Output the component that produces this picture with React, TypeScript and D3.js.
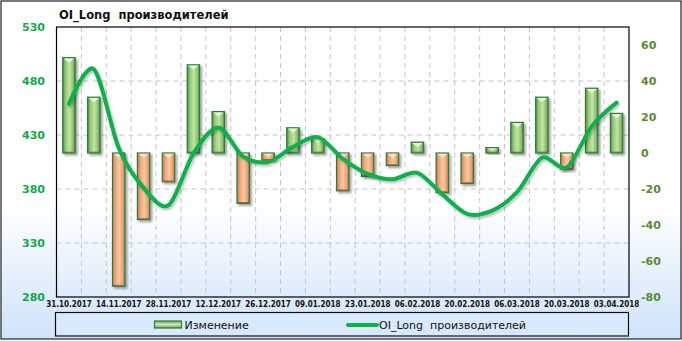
import React from "react";
import * as d3 from "d3";

const dates = [
  "31.10.2017", "07.11.2017", "14.11.2017", "21.11.2017", "28.11.2017", "05.12.2017",
  "12.12.2017", "19.12.2017", "26.12.2017", "02.01.2018", "09.01.2018", "16.01.2018",
  "23.01.2018", "30.01.2018", "06.02.2018", "13.02.2018", "20.02.2018", "27.02.2018",
  "06.03.2018", "13.03.2018", "20.03.2018", "27.03.2018", "03.04.2018",
];
const oiLong = [459, 491, 418, 381, 365, 413, 437, 410, 405, 419, 428, 408, 394, 389, 395, 375, 357, 360, 377, 409, 400, 438, 460];
const change = [53, 31, -74, -37, -16, 49, 23, -28, -4, 14, 8, -21, -13, -7, 6, -22, -17, 3, 17, 31, -9, 36, 22];
const leftTicks = [280, 330, 380, 430, 480, 530];
const rightTicks = [-80, -60, -40, -20, 0, 20, 40, 60];
const title = "OI_Long  производителей";
const seriesBar = "Изменение";
const seriesLine = "OI_Long  производителей";

const W = 682, H = 341;
const PL = 56.5, PR = 629, PT = 27, PB = 297;

export default function App() {
  const idx = dates.map((_, i) => i);
  const x = d3.scaleBand<number>().domain(idx).range([PL, PR]).paddingInner(0.5).paddingOuter(0.25);
  const yL = d3.scaleLinear().domain([280, 530]).range([PB, PT]);
  const yR = d3.scaleLinear().domain([-80, 70]).range([PB, PT]);
  const cx = (i: number) => (x(i) as number) + x.bandwidth() / 2;
  const line = d3
    .line<number>()
    .x((_, i) => cx(i))
    .y((d) => yL(d))
    .curve(d3.curveCardinal.tension(0.1));
  const fullStep = (PR - PL) / dates.length;
  const pre = { whiteSpace: "pre" as const };

  return (
    <svg width={W} height={H} style={{ position: "absolute", left: 0, top: 0 }} fontFamily="'DejaVu Sans', Verdana, sans-serif">
      <defs>
        <linearGradient id="bg" x1="0" y1="0" x2="0" y2="1">
          <stop offset="0" stopColor="#ffffff" />
          <stop offset="0.6" stopColor="#ffffff" />
          <stop offset="1" stopColor="#cfe3fa" />
        </linearGradient>
        <linearGradient id="gGreen" x1="0" y1="0" x2="1" y2="0">
          <stop offset="0" stopColor="#578f42" />
          <stop offset="0.25" stopColor="#9acb7c" />
          <stop offset="0.55" stopColor="#c2e3a4" />
          <stop offset="0.85" stopColor="#8bbd6d" />
          <stop offset="1" stopColor="#4a8638" />
        </linearGradient>
        <linearGradient id="gOrange" x1="0" y1="0" x2="1" y2="0">
          <stop offset="0" stopColor="#c9784a" />
          <stop offset="0.25" stopColor="#eea77a" />
          <stop offset="0.55" stopColor="#fbc9a2" />
          <stop offset="0.85" stopColor="#e89d70" />
          <stop offset="1" stopColor="#b96a40" />
        </linearGradient>
        <linearGradient id="gLegend" x1="0" y1="0" x2="0" y2="1">
          <stop offset="0" stopColor="#6f9f58" />
          <stop offset="0.5" stopColor="#cfe8b6" />
          <stop offset="1" stopColor="#6f9f58" />
        </linearGradient>
        <filter id="sh" x="-30%" y="-30%" width="160%" height="160%">
          <feDropShadow dx="2" dy="2" stdDeviation="1.3" floodColor="#000" floodOpacity="0.35" />
        </filter>
        <filter id="shL" x="-10%" y="-10%" width="120%" height="130%">
          <feDropShadow dx="1.5" dy="2" stdDeviation="1.2" floodColor="#000" floodOpacity="0.25" />
        </filter>
      </defs>

      <rect x={1} y={1} width={680} height={338} fill="url(#bg)" stroke="#222" strokeWidth={1.2} />

      <text x={59} y={19} fontSize={11.5} fontWeight="bold" fill="#111" style={pre}>{title}</text>

      {/* grid */}
      {leftTicks.slice(1, -1).map((t) => (
        <line key={"h" + t} x1={PL} x2={PR} y1={yL(t)} y2={yL(t)} stroke="#c4c4c4" strokeDasharray="5,4" />
      ))}
      {idx.slice(1).map((i) => (
        <line key={"v" + i} x1={PL + i * fullStep} x2={PL + i * fullStep} y1={PT} y2={PB} stroke="#c4c4c4" strokeDasharray="5,4" />
      ))}

      {/* bars */}
      {change.map((v, i) => {
        const x0 = x(i) as number;
        const bw = x.bandwidth();
        const y0 = yR(Math.max(0, v));
        const y1 = yR(Math.min(0, v));
        const h = Math.max(1, y1 - y0);
        const up = v >= 0;
        const tri = Math.min(5, h / 2);
        return (
          <g key={"b" + i} filter="url(#sh)">
            <rect x={x0} y={y0} width={bw} height={h} fill={up ? "url(#gGreen)" : "url(#gOrange)"} stroke="#2a7d3c" strokeWidth={1.2} />
            <path
              d={`M${x0 + 1},${y0 + 0.8} L${x0 + bw - 1},${y0 + 0.8} L${x0 + bw / 2},${y0 + tri} Z`}
              fill={up ? "#e6f7d2" : "#fde3cc"}
            />
            <line x1={x0 + 1} x2={x0 + bw - 1} y1={y0 + h - 0.8} y2={y0 + h - 0.8} stroke={up ? "#4a7d3a" : "#9a5a35"} strokeWidth={1} />
          </g>
        );
      })}

      {/* line */}
      <path d={line(oiLong) || ""} fill="none" stroke="#0db04b" strokeWidth={4} strokeLinejoin="round" strokeLinecap="round" filter="url(#shL)" />

      {/* plot border */}
      <rect x={PL} y={PT} width={PR - PL} height={PB - PT} fill="none" stroke="#000" strokeWidth={1.2} />

      {/* left axis */}
      {leftTicks.map((t) => (
        <text key={"l" + t} x={45} y={yL(t)} dy="0.36em" textAnchor="end" fontSize={11} fontWeight="bold" fill="#12a84a">{t}</text>
      ))}
      {/* right axis */}
      {rightTicks.map((t) => (
        <text key={"r" + t} x={641} y={yR(t)} dy="0.36em" textAnchor="start" fontSize={11} fontWeight="bold" fill="#5a8a34">{t}</text>
      ))}
      {/* x labels */}
      {dates.map((d, i) =>
        i % 2 === 0 ? (
          <text key={"x" + i} x={cx(i)} y={307} textAnchor="middle" fontSize={8} fontWeight="bold" fill="#111" fontFamily="'DejaVu Sans Condensed', 'Liberation Sans Narrow', sans-serif">{d}</text>
        ) : null
      )}

      {/* legend */}
      <rect x={55.5} y={312.5} width={573} height={23.5} fill="#dcebfc" fillOpacity={0.5} stroke="#111" strokeWidth={1.2} />
      <rect x={154.5} y={321} width={27} height={7} fill="url(#gLegend)" stroke="#2a7d3c" strokeWidth={1.2} />
      <text x={184.5} y={329} fontSize={11} fill="#111">{seriesBar}</text>
      <line x1={348} x2={377} y1={325} y2={325} stroke="#0db04b" strokeWidth={4} strokeLinecap="round" />
      <text x={379} y={329} fontSize={11} fill="#111" style={pre}>{seriesLine}</text>
    </svg>
  );
}
